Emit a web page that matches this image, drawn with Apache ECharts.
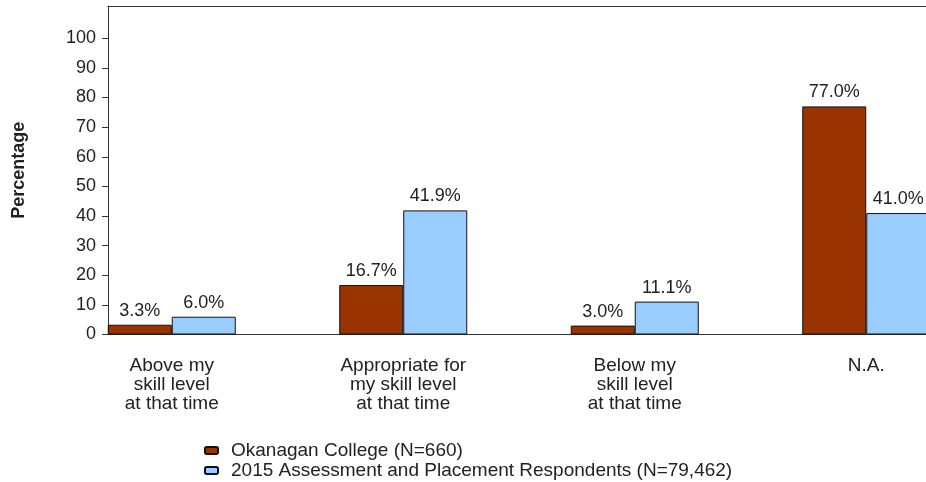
<!DOCTYPE html>
<html>
<head>
<meta charset="utf-8">
<script src="https://cdn.jsdelivr.net/npm/echarts@6/dist/echarts.min.js"></script>
<style>html,body{margin:0;padding:0;background:#fff}#c{width:926px;height:482px}</style>
</head>
<body>
<div id="c"></div>
<script>
var categories = ['Above my\nskill level\nat that time', 'Appropriate for\nmy skill level\nat that time', 'Below my\nskill level\nat that time', 'N.A.'];
var seriesNames = ['Okanagan College (N=660)', '2015 Assessment and Placement Respondents (N=79,462)'];
var okanagan = [3.3, 16.7, 3.0, 77.0];
var respondents = [6.0, 41.9, 11.1, 41.0];
var yTicks = [0, 10, 20, 30, 40, 50, 60, 70, 80, 90, 100];

var chart = echarts.init(document.getElementById('c'));
var FONT = 'Liberation Sans, Arial, sans-serif';
var yMax = 110.9;
var labelStyle = {
  show: true, position: 'top', distance: 5,
  fontFamily: FONT, fontSize: 18, color: '#222',
  formatter: function (p) { return p.value.toFixed(1) + '%'; }
};
chart.setOption({
  animation: false,
  backgroundColor: '#fff',
  grid: [
    { left: 108, right: 0, top: 6, bottom: 147.5, outerBoundsMode: 'none' },
    { left: 56, width: 926, top: 6, bottom: 147.5, outerBoundsMode: 'none' }
  ],
  xAxis: [
    { gridIndex: 0, type: 'value', min: 0, max: 1, position: 'bottom',
      axisLine: { show: true, lineStyle: { color: '#333', width: 1 } },
      axisTick: { show: false }, axisLabel: { show: false }, splitLine: { show: false } },
    { gridIndex: 0, type: 'value', min: 0, max: 1, position: 'top',
      axisLine: { show: true, lineStyle: { color: '#333', width: 1 } },
      axisTick: { show: false }, axisLabel: { show: false }, splitLine: { show: false } },
    { gridIndex: 1, type: 'category', data: categories,
      axisLine: { show: false }, axisTick: { show: false }, splitLine: { show: false },
      axisLabel: { interval: 0, margin: 22, fontFamily: FONT, fontSize: 19, lineHeight: 19, color: '#222', align: 'center' } }
  ],
  yAxis: [
    { gridIndex: 0, type: 'value', min: 0, max: yMax,
      name: 'Percentage', nameLocation: 'middle', nameGap: 80,
      nameTextStyle: { fontFamily: FONT, fontSize: 18, fontWeight: 'bold', color: '#222' },
      axisLine: { show: true, lineStyle: { color: '#333', width: 1 } },
      axisTick: { show: true, length: 6, lineStyle: { color: '#333' }, customValues: yTicks },
      axisLabel: { margin: 12, fontFamily: FONT, fontSize: 18, color: '#222', customValues: yTicks },
      splitLine: { show: false } },
    { gridIndex: 1, type: 'value', min: 0, max: yMax, show: false, splitLine: { show: false } }
  ],
  legend: {
    orient: 'vertical', left: 204, top: 441, padding: 0, width: 700, height: 41,
    itemWidth: 13, itemHeight: 7, itemGap: 1,
    itemStyle: { borderRadius: 0 },
    textStyle: { fontFamily: FONT, fontSize: 19, color: '#222', padding: [0, 0, 0, 8] },
    data: seriesNames
  },
  series: [
    { name: seriesNames[0], type: 'bar', xAxisIndex: 2, yAxisIndex: 1, data: okanagan,
      barWidth: 64, barGap: '0%',
      itemStyle: { color: '#993300', borderColor: '#111', borderWidth: 1 }, label: labelStyle },
    { name: seriesNames[1], type: 'bar', xAxisIndex: 2, yAxisIndex: 1, data: respondents,
      barWidth: 64, barGap: '0%',
      itemStyle: { color: '#99ccff', borderColor: '#111', borderWidth: 1 }, label: labelStyle }
  ]
});
</script>
</body>
</html>
